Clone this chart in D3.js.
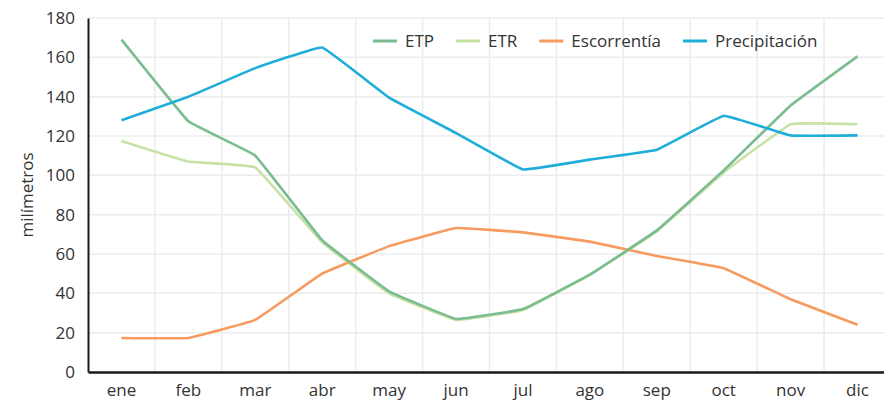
<!DOCTYPE html>
<html lang="es">
<head>
<meta charset="utf-8">
<script src="https://cdn.jsdelivr.net/npm/d3@7"></script>
<style>
  html, body { margin: 0; padding: 0; background: #fff; overflow: hidden; }
  svg { display: block; font-family: "Open Sans", sans-serif; }
</style>
</head>
<body>
<svg id="chart" width="884" height="405"></svg>
<script>
// Balance hídrico mensual (mm)
const months = ["ene", "feb", "mar", "abr", "may", "jun", "jul", "ago", "sep", "oct", "nov", "dic"];
const etp = [169, 127.5, 110, 67, 41, 27, 32, 49.5, 72, 102.5, 135.5, 160.5];
const etr = [117.5, 107, 104, 66, 40, 26.5, 31.5, 49.5, 71.5, 101.5, 126, 126];
const escorrentia = [17.3, 17.3, 26.5, 50, 64, 73.2, 71, 66.3, 59, 52.8, 37, 24];
const precipitacion = [128, 140, 154.5, 165, 139.5, 121.5, 103, 108, 113, 130.3, 120.3, 120.3];
const yTicks = [0, 20, 40, 60, 80, 100, 120, 140, 160, 180];

const seriesNames = ["ETP", "ETR", "Escorrentía", "Precipitación"];
const seriesColors = ["#7bbd90", "#c7e2a6", "#f79a5f", "#1eaed9"];
const seriesValues = [etp, etr, escorrentia, precipitacion];
// drawing order: light ETR underneath, precipitation on top
const drawOrder = [1, 2, 0, 3];

const svg = d3.select("#chart");
const plotLeft = 88, plotTop = 18, plotBottom = 372, plotRight = 891;

const x = d3.scaleBand().domain(months).range([plotLeft, plotRight]).padding(0);
const y = d3.scaleLinear().domain([0, 180]).range([plotBottom, plotTop]);
const cx = m => x(m) + x.bandwidth() / 2;

// grid
const grid = svg.append("g");
grid.selectAll("line.h").data(yTicks.filter(t => t > 0)).join("line")
  .attr("class", "h")
  .attr("x1", plotLeft).attr("x2", 884)
  .attr("y1", d => y(d)).attr("y2", d => y(d))
  .attr("stroke", "#ececec").attr("stroke-width", 1.5);
grid.selectAll("line.v").data(months.slice(1)).join("line")
  .attr("class", "v")
  .attr("x1", d => x(d)).attr("x2", d => x(d))
  .attr("y1", plotTop).attr("y2", plotBottom)
  .attr("stroke", "#ececec").attr("stroke-width", 1.5);

// axes
const yAxis = svg.append("g").attr("transform", `translate(${plotLeft},0)`)
  .call(d3.axisLeft(y).tickValues(yTicks).tickSize(0).tickPadding(13));
yAxis.select(".domain").attr("stroke", "#1a1a1a").attr("stroke-width", 2);
yAxis.selectAll("text").attr("font-size", 17).attr("fill", "#333")
  .attr("font-family", "Open Sans, sans-serif");

const xAxis = svg.append("g").attr("transform", `translate(0,${plotBottom})`)
  .call(d3.axisBottom(x).tickSize(0).tickPadding(12));
xAxis.select(".domain").attr("stroke", "#1a1a1a").attr("stroke-width", 2.5);
xAxis.selectAll("text").attr("font-size", 17).attr("fill", "#333")
  .attr("font-family", "Open Sans, sans-serif");

svg.append("text")
  .attr("transform", "translate(33,195) rotate(-90)")
  .attr("text-anchor", "middle")
  .attr("font-size", 17).attr("fill", "#333")
  .text("milímetros");

// lines, lightly rounded at the vertices
const line = d3.line()
  .x((d, i) => cx(months[i]))
  .y(d => y(d))
  .curve(d3.curveCardinal.tension(0.8));

svg.append("g").selectAll("path").data(drawOrder).join("path")
  .attr("d", k => line(seriesValues[k]))
  .attr("fill", "none")
  .attr("stroke", k => seriesColors[k])
  .attr("stroke-width", 2.6)
  .attr("stroke-linejoin", "round")
  .attr("stroke-linecap", "butt");

// legend
const legend = svg.append("g");
let lx = 373;
const ly = 41;
seriesNames.forEach((name, i) => {
  legend.append("line")
    .attr("x1", lx).attr("x2", lx + 24)
    .attr("y1", ly).attr("y2", ly)
    .attr("stroke", seriesColors[i]).attr("stroke-width", 3);
  const t = legend.append("text")
    .attr("x", lx + 32).attr("y", ly).attr("dy", "0.35em")
    .attr("font-size", 17).attr("fill", "#333")
    .text(name);
  lx += 32 + t.node().getComputedTextLength() + 22;
});
</script>
</body>
</html>
